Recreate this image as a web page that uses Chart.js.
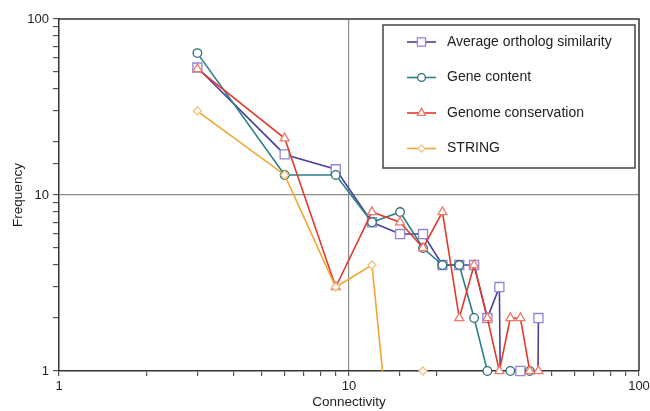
<!DOCTYPE html>
<html>
<head>
<meta charset="utf-8">
<script src="https://cdn.jsdelivr.net/npm/chart.js"></script>
<style>
  html, body { margin: 0; padding: 0; background: #fff; }
  #wrap { width: 650px; height: 411px; }
</style>
</head>
<body>
<div id="wrap"><canvas id="degreeChart" width="650" height="411"></canvas></div>
<script>
// connectivity bins (x) and frequency counts (y)
var connectivity = [3, 6, 9, 12, 15, 18, 21, 24, 27, 30, 33, 36, 39, 42, 45];
var orthologSimilarity = [53, 17, 14, 7, 6, 6, 4, 4, 4, 2, 3, 0, 1, 0, 2];
var geneContent = [64, 13, 13, 7, 8, 5, 4, 4, 2, 1, 0, 1, 0, 1, null];
var genomeConservation = [52, 21, 3, 8, 7, 5, 8, 2, 4, 2, 1, 2, 2, 1, 1];
var stringNet = [30, 13, 3, 4, 0.1, 1, null, null, null, null, null, null, null, null, null];

var seriesLabels = ['Average ortholog similarity', 'Gene content', 'Genome conservation', 'STRING'];
var xTickLabels = [1, 10, 100];
var yTickLabels = [1, 10, 100];

// zero counts sit at -infinity on a log axis; push them far below the axis
var ZERO_FLOOR = 1e-6;

var styles = [
  { line: '#4a3fa0', marker: '#8e86d4', pointStyle: 'rect', radius: 6.4 },
  { line: '#2a7f88', marker: '#2d6e76', pointStyle: 'circle', radius: 4.3 },
  { line: '#e23a2c', marker: '#ef7a6a', pointStyle: 'triangle', radius: 5.2 },
  { line: '#f0a632', marker: '#f3c184', pointStyle: 'rectRot', radius: 4 }
];
var allSeries = [orthologSimilarity, geneContent, genomeConservation, stringNet];

var datasets = [];
allSeries.forEach(function (vals, i) {
  var st = styles[i];
  // line part (zeros dropped off the bottom, clipped at the axis)
  datasets.push({
    label: seriesLabels[i],
    data: connectivity.map(function (x, j) {
      var v = vals[j];
      return { x: x, y: v === 0 ? ZERO_FLOOR : v };
    }),
    borderColor: st.line,
    borderWidth: 1.6,
    pointRadius: 0,
    fill: false,
    tension: 0,
    clip: 0,
    order: (3 - i) * 2 + 1
  });
  // markers (hollow, drawn on top of the line)
  datasets.push({
    label: seriesLabels[i] + ' markers',
    data: connectivity.map(function (x, j) {
      var v = vals[j];
      return { x: x, y: v === 0 ? null : v };
    }),
    showLine: false,
    pointStyle: st.pointStyle,
    pointRadius: st.radius,
    pointBorderColor: st.marker,
    pointBackgroundColor: '#fff',
    pointBorderWidth: 1.3,
    clip: false,
    order: (3 - i) * 2
  });
});

var frame = {
  id: 'frame',
  beforeDatasetsDraw: function (chart) {
    var a = chart.chartArea, ctx = chart.ctx;
    ctx.save();
    ctx.strokeStyle = '#333';
    ctx.lineWidth = 1.5;
    ctx.beginPath();
    ctx.moveTo(a.left, a.top);
    ctx.lineTo(a.right, a.top);
    ctx.lineTo(a.right, a.bottom);
    ctx.stroke();
    ctx.restore();
  }
};

var boxLegend = {
  id: 'boxLegend',
  afterDraw: function (chart) {
    var a = chart.chartArea, ctx = chart.ctx;
    var w = 252, h = 143;
    var bx = a.right - 256, by = a.top + 6;
    ctx.save();
    ctx.fillStyle = '#fff';
    ctx.fillRect(bx, by, w, h);
    ctx.strokeStyle = '#444';
    ctx.lineWidth = 1.5;
    ctx.strokeRect(bx, by, w, h);
    ctx.font = '14px "Liberation Sans", Arial, sans-serif';
    ctx.textBaseline = 'middle';
    seriesLabels.forEach(function (lab, i) {
      var st = styles[i];
      var y = by + 17 + i * 35.5;
      var mx = bx + 38.5;
      ctx.strokeStyle = st.line;
      ctx.lineWidth = 1.6;
      ctx.beginPath();
      ctx.moveTo(bx + 24, y);
      ctx.lineTo(bx + 53, y);
      ctx.stroke();
      ctx.fillStyle = '#fff';
      ctx.strokeStyle = st.marker;
      ctx.lineWidth = 1.3;
      if (Chart.helpers && Chart.helpers.drawPoint) {
        Chart.helpers.drawPoint(ctx, { pointStyle: st.pointStyle, radius: st.radius * 0.9, borderWidth: 1.3, rotation: 0 }, mx, y);
      } else {
        ctx.beginPath();
        ctx.arc(mx, y, 4, 0, Math.PI * 2);
        ctx.fill();
        ctx.stroke();
      }
      ctx.fillStyle = '#222';
      ctx.fillText(lab, bx + 64, y);
    });
    ctx.restore();
  }
};

function onlyLabels(list) {
  return function (value) {
    return list.indexOf(Number(value)) >= 0 ? String(value) : '';
  };
}

function majorGrid(c) {
  return c.tick && c.tick.value === 10 ? '#8c8c8c' : 'rgba(0,0,0,0)';
}

var ctx = document.getElementById('degreeChart').getContext('2d');
var chart = new Chart(ctx, {
  type: 'line',
  data: { datasets: datasets },
  options: {
    responsive: false,
    animation: false,
    layout: { padding: { top: 19, right: 11, left: 0, bottom: 0 } },
    plugins: {
      legend: { display: false },
      tooltip: { enabled: false }
    },
    scales: {
      x: {
        type: 'logarithmic',
        min: 1,
        max: 100,
        position: 'bottom',
        afterFit: function (s) { s.height = 40; s.paddingRight = 0; s.paddingLeft = 0; },
        ticks: {
          autoSkip: false,
          maxRotation: 0,
          padding: 3,
          color: '#222',
          font: { family: '"Liberation Sans", Arial, sans-serif', size: 13 },
          callback: onlyLabels(xTickLabels)
        },
        grid: { color: majorGrid, tickColor: '#555', tickLength: 5, lineWidth: 1.2 },
        border: { color: '#333', width: 1.5 },
        title: {
          display: true,
          text: 'Connectivity',
          color: '#222',
          font: { family: '"Liberation Sans", Arial, sans-serif', size: 13.5 },
          padding: { top: 0, bottom: 1 }
        }
      },
      y: {
        type: 'logarithmic',
        min: 1,
        max: 100,
        afterFit: function (s) { s.width = 59; s.paddingTop = 0; s.paddingBottom = 0; },
        ticks: {
          autoSkip: false,
          padding: 4,
          color: '#222',
          font: { family: '"Liberation Sans", Arial, sans-serif', size: 13 },
          callback: onlyLabels(yTickLabels)
        },
        grid: { color: majorGrid, tickColor: '#555', tickLength: 6, lineWidth: 1.2 },
        border: { color: '#333', width: 1.5 },
        title: {
          display: true,
          text: 'Frequency',
          color: '#222',
          font: { family: '"Liberation Sans", Arial, sans-serif', size: 13.5 },
          padding: { top: 10, bottom: 2 }
        }
      }
    }
  },
  plugins: [frame, boxLegend]
});
</script>
</body>
</html>
